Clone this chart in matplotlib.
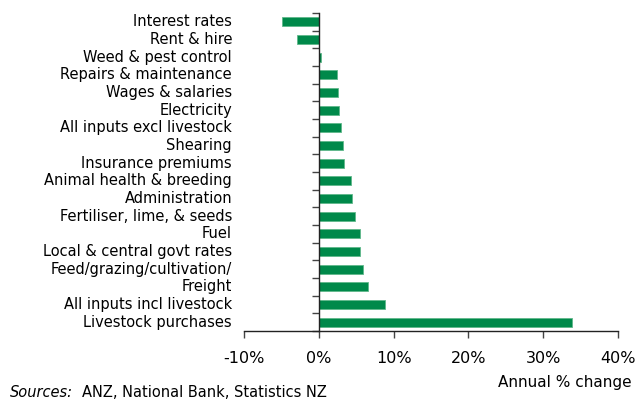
import matplotlib.pyplot as plt
from matplotlib.ticker import FixedLocator, FuncFormatter

# Annual % change in farm input prices, top to bottom
categories = [
    'Interest rates', 'Rent & hire', 'Weed & pest control',
    'Repairs & maintenance', 'Wages & salaries', 'Electricity',
    'All inputs excl livestock', 'Shearing', 'Insurance premiums',
    'Animal health & breeding', 'Administration',
    'Fertiliser, lime, & seeds', 'Fuel', 'Local & central govt rates',
    'Feed/grazing/cultivation/', 'Freight', 'All inputs incl livestock',
    'Livestock purchases',
]
values = [-4.9, -2.9, 0.3, 2.4, 2.5, 2.7, 2.9, 3.3, 3.4, 4.3, 4.5, 4.8,
          5.5, 5.5, 5.9, 6.6, 8.9, 33.8]
x_ticks = [-10, 0, 10, 20, 30, 40]

GREEN = '#00894a'

fig = plt.figure(figsize=(6.43, 4.03), dpi=100)
ax = fig.add_axes([0.3795, 0.1787, 0.5816, 0.789])

n = len(categories)
ypos = [n - 1 - i for i in range(n)]
ax.barh(ypos, values, height=0.5, color=GREEN, edgecolor='#5fb88a',
        linewidth=0.6)

ax.set_xlim(-10, 40)
ax.set_ylim(-0.5, n - 0.5)

for s in ('top', 'right'):
    ax.spines[s].set_visible(False)
ax.spines['left'].set_position(('data', 0))
for s in ('left', 'bottom'):
    ax.spines[s].set_linewidth(1.0)
    ax.spines[s].set_color('#222222')

# y axis: ticks at the boundaries between bars, labels at the left edge
ax.set_yticks([])
ax.yaxis.set_minor_locator(FixedLocator([k + 0.5 for k in range(-1, n)]))
ax.tick_params(axis='y', which='minor', length=5, width=1.0,
               color='#444444', direction='out')
for y, label in zip(ypos, categories):
    ax.text(-0.032, y, label, transform=ax.get_yaxis_transform(),
            ha='right', va='center', fontsize=10.5)

ax.set_xticks(x_ticks)
ax.xaxis.set_major_formatter(FuncFormatter(lambda v, _: f'{v:.0f}%'))
ax.tick_params(axis='x', length=5, width=1.0, color='#444444',
               direction='out', pad=9.5, labelsize=11.5)

fig.text(0.983, 0.05, 'Annual % change', ha='right', va='center',
         fontsize=11)
fig.text(0.016, 0.027, 'Sources:', ha='left', va='center',
         fontsize=10.5, style='italic')
fig.text(0.127, 0.027, 'ANZ, National Bank, Statistics NZ', ha='left',
         va='center', fontsize=10.5)

fig.savefig('out.png', dpi=100)
